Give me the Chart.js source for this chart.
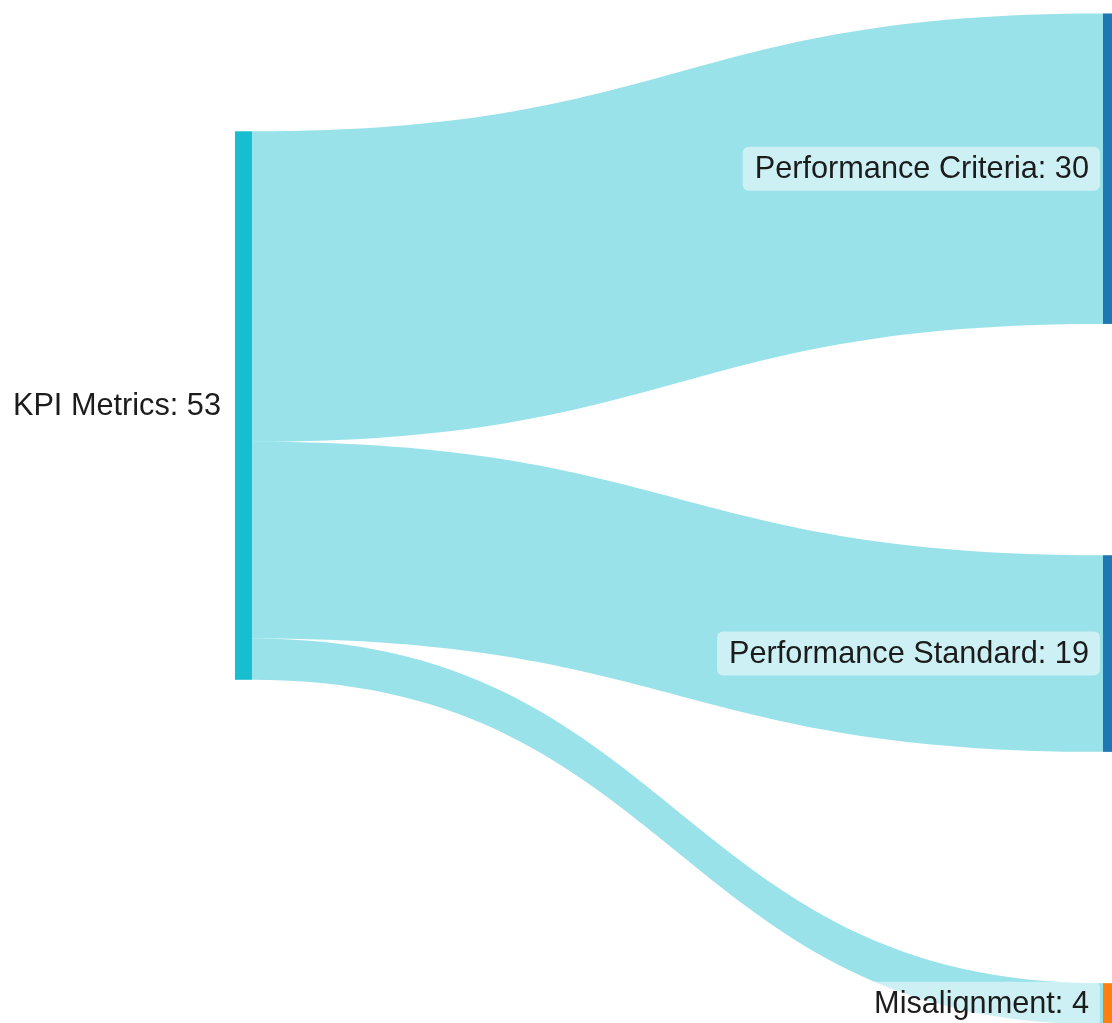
<!DOCTYPE html>
<html><head><meta charset="utf-8">
<script src="https://cdn.jsdelivr.net/npm/chart.js@4.4.1/dist/chart.umd.min.js"></script>
<style>html,body{margin:0;padding:0;background:#fff;}#wrap{width:1112px;height:1023px;position:relative;}</style>
</head><body><div id="wrap"><canvas id="c"></canvas></div>
<script>
// ---- data ----
const nodeLabels = ['KPI Metrics', 'Performance Criteria', 'Performance Standard', 'Misalignment'];
const nodeColumn = [0, 1, 1, 1];
const linkSource = [0, 0, 0];
const linkTarget = [1, 2, 3];
const linkValue = [30, 19, 4];

// ---- styles / layout constants ----
const nodeColors = ['#17becf', '#1f77b4', '#1f77b4', '#ff7f0e'];
const linkColor = 'rgba(23,190,207,0.44)';
const NODE_W = 17;
const COLUMN_SPAN = 97.7;
const Y_MIN = -1.3, Y_MAX = 97.55;
const X_MIN = -0.2707, X_MAX = 1.0104;
const FONT = '30.7px "Liberation Sans", Arial, sans-serif';

// ---- layout in value units ----
function layout() {
  const n = nodeLabels.length;
  const inV = new Array(n).fill(0), outV = new Array(n).fill(0);
  linkValue.forEach((v, i) => { outV[linkSource[i]] += v; inV[linkTarget[i]] += v; });
  const val = inV.map((v, i) => Math.max(v, outV[i]));
  const top = new Array(n).fill(0);
  const cols = [...new Set(nodeColumn)].sort((a, b) => b - a);
  const last = cols[0];
  const lastNodes = nodeLabels.map((_, i) => i).filter(i => nodeColumn[i] === last);
  const sum = lastNodes.reduce((s, i) => s + val[i], 0);
  const gap = lastNodes.length > 1 ? (COLUMN_SPAN - sum) / (lastNodes.length - 1) : 0;
  let y = 0;
  lastNodes.forEach(i => { top[i] = y; y += val[i] + gap; });
  cols.slice(1).forEach(c => {
    nodeLabels.forEach((_, i) => {
      if (nodeColumn[i] !== c) return;
      let w = 0, s = 0;
      linkValue.forEach((v, k) => {
        if (linkSource[k] === i) { const t = linkTarget[k]; s += v * (top[t] + val[t] / 2); w += v; }
      });
      top[i] = s / w - val[i] / 2;
    });
  });
  return { val, top };
}

const sankeyPlugin = {
  id: 'sankey',
  afterDraw(chart) {
    const ctx = chart.ctx, xs = chart.scales.x, ys = chart.scales.y;
    const { val, top } = layout();
    const outOff = new Array(nodeLabels.length).fill(0);
    const inOff = new Array(nodeLabels.length).fill(0);
    ctx.save();
    linkValue.forEach((v, k) => {
      const s = linkSource[k], t = linkTarget[k];
      const x0 = xs.getPixelForValue(nodeColumn[s]) + NODE_W;
      const x1 = xs.getPixelForValue(nodeColumn[t]);
      const xm = (x0 + x1) / 2;
      const sy0 = ys.getPixelForValue(top[s] + outOff[s]);
      const sy1 = ys.getPixelForValue(top[s] + outOff[s] + v);
      const ty0 = ys.getPixelForValue(top[t] + inOff[t]);
      const ty1 = ys.getPixelForValue(top[t] + inOff[t] + v);
      outOff[s] += v; inOff[t] += v;
      ctx.beginPath();
      ctx.moveTo(x0, sy0);
      ctx.bezierCurveTo(xm, sy0, xm, ty0, x1, ty0);
      ctx.lineTo(x1, ty1);
      ctx.bezierCurveTo(xm, ty1, xm, sy1, x0, sy1);
      ctx.closePath();
      ctx.fillStyle = linkColor;
      ctx.fill();
    });
    nodeLabels.forEach((_, i) => {
      const x = xs.getPixelForValue(nodeColumn[i]);
      const y0 = ys.getPixelForValue(top[i]);
      const y1 = ys.getPixelForValue(top[i] + val[i]);
      ctx.fillStyle = nodeColors[i];
      ctx.fillRect(x, y0, NODE_W, y1 - y0);
    });
    ctx.font = FONT;
    ctx.textAlign = 'right';
    ctx.textBaseline = 'middle';
    nodeLabels.forEach((name, i) => {
      const x = xs.getPixelForValue(nodeColumn[i]) - 14;
      const yc = ys.getPixelForValue(top[i] + val[i] / 2);
      const txt = name + ': ' + val[i];
      const w = ctx.measureText(txt).width;
      const bx = x - w - 12, bw = w + 23, bh = 44, by = yc - bh / 2;
      ctx.fillStyle = 'rgba(255,255,255,0.5)';
      ctx.beginPath();
      ctx.roundRect(bx, by, bw, bh, 6);
      ctx.fill();
      ctx.fillStyle = '#1c1c1c';
      ctx.fillText(txt, x, yc + 1);
    });
    ctx.restore();
  }
};

new Chart(document.getElementById('c'), {
  type: 'scatter',
  data: { datasets: [{ data: [] }] },
  options: {
    responsive: true,
    maintainAspectRatio: false,
    animation: false,
    layout: { padding: 0 },
    plugins: { legend: { display: false }, tooltip: { enabled: false } },
    scales: {
      x: { type: 'linear', display: false, min: X_MIN, max: X_MAX },
      y: { type: 'linear', display: false, reverse: true, min: Y_MIN, max: Y_MAX }
    }
  },
  plugins: [sankeyPlugin]
});
</script>
</body></html>
